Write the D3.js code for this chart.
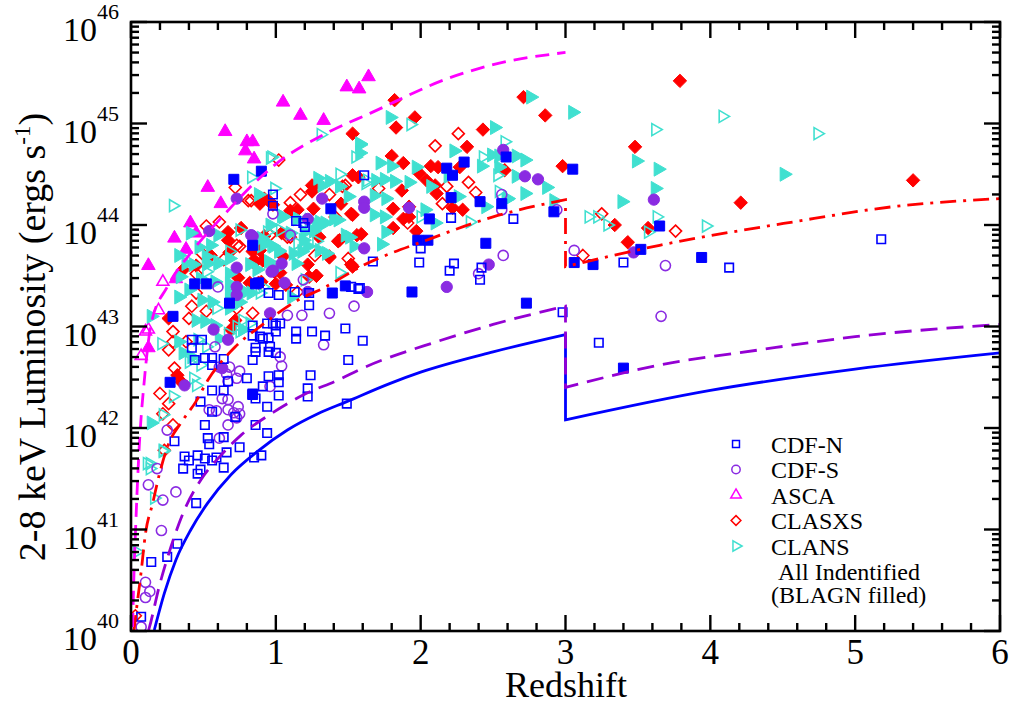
<!DOCTYPE html>
<html>
  <head>
    <meta charset="UTF-8" />
    <title>2-8 keV Luminosity vs Redshift</title>
    <style>
      body { margin: 0; background: #fff; }
      svg, svg text { font-family: "Liberation Serif", "Times New Roman", "DejaVu Serif", serif; }
    </style>
  </head>
  <body>
    <svg width="1014" height="706" font-family="Liberation Serif, Times New Roman, serif"></svg>

    <script src="https://d3js.org/d3.v7.min.js"></script>
    <script>
      // 数据: [redshift, log10 L(2-8 keV)]
      // CDF-N
      const cdfnOpen = [
        [3.40,43.63],[4.13,43.58],[5.18,43.86],[3.23,42.84],[2.98,43.14],
        [1.61,44.49],[2.21,44.07],[2.64,44.06],[2.00,43.77],[1.67,43.64],[1.99,43.63],[2.23,43.62],[2.20,43.55],
        [2.42,43.58],[2.41,43.46],[1.58,43.38],[0.98,44.30],[1.14,44.04],[1.20,43.98],[1.52,43.39],[1.57,43.37],
        [1.23,43.21],[1.02,43.31],[1.14,42.95],[1.14,42.88],[1.25,42.95],[1.34,42.91],[1.48,42.98],[1.60,42.86],
        [0.89,42.90],[1.00,42.95],[0.98,43.03],[1.03,43.03],[1.23,43.33],[0.86,42.79],[0.96,42.80],[0.98,44.19],
        [1.19,44.02],[1.13,43.34],[1.50,42.67],[1.24,42.52],[1.22,42.39],[1.22,42.31],[1.49,42.24],[1.02,42.52],
        [1.02,42.45],[1.02,42.32],[0.95,42.51],[0.91,42.41],[0.84,42.34],[0.86,42.29],[0.94,42.21],[0.80,42.49],
        [0.67,42.46],[0.86,42.75],[0.84,42.67],[0.95,42.75],[1.00,42.74],[0.91,42.88],[0.95,42.89],[0.84,43.01],
        [0.94,43.03],[1.00,43.01],[0.84,42.91],[0.56,42.69],[0.64,42.68],[0.44,42.67],[0.51,42.69],[0.56,42.62],
        [0.64,42.37],[0.56,42.37],[0.48,42.26],[0.56,42.16],[0.51,42.03],[0.53,41.90],[0.54,41.84],[0.64,41.91],
        [0.72,42.11],[0.86,42.03],[0.94,41.95],[0.90,41.73],[0.75,41.81],[0.66,41.76],[0.59,41.71],[0.56,41.68],
        [0.51,41.70],[0.46,41.73],[0.40,41.68],[0.37,41.72],[0.36,41.60],[0.48,41.59],[0.30,41.87],[0.42,42.79],
        [0.42,42.87],[0.46,41.55],[0.64,41.61],[0.85,41.71],[0.45,41.26],[0.32,40.86],[0.25,40.73],[0.14,40.68],
        [0.07,40.14],[0.49,42.87],[0.95,43.33]
      ];
      const cdfnBlagn = [
        [3.05,44.55],[3.65,43.99],[3.52,43.76],[3.06,43.63],[3.19,43.61],[3.94,43.68],[3.40,42.59],
        [2.30,44.62],[2.59,44.67],[2.18,44.56],[2.22,44.49],[2.21,44.27],[2.41,44.23],[2.56,44.21],[2.92,44.13],
        [2.06,44.06],[1.98,43.85],[2.05,43.85],[2.45,43.82],[1.94,43.34],[2.73,43.23],[0.90,44.53],[0.71,44.45],
        [1.38,44.16],[0.84,43.80],[0.88,43.43],[1.48,43.40],[1.39,43.33],[0.44,43.42],[0.52,43.42],[0.68,43.23],
        [0.86,43.42],[0.29,43.10],[0.27,42.45],[0.84,42.33]
      ];
      // CDF-S
      const cdfsOpen = [
        [3.06,43.75],[3.69,43.60],[3.66,43.10],[2.56,44.30],[2.56,44.15],[2.94,44.15],[2.57,43.70],[2.40,43.52],
        [0.98,44.11],[1.10,43.90],[1.19,43.46],[1.08,43.11],[1.18,43.11],[1.37,43.13],[1.54,43.20],[1.33,42.82],
        [0.60,43.39],[1.03,42.70],[1.04,42.61],[0.96,42.41],[0.68,42.60],[0.75,42.56],[0.73,42.49],[0.66,42.53],
        [0.67,42.46],[0.61,42.60],[0.63,42.29],[0.67,42.28],[0.54,42.18],[0.59,42.17],[0.67,42.18],[0.71,42.15],
        [0.74,42.21],[0.73,42.10],[0.67,42.03],[0.61,41.90],[0.75,42.14],[0.25,41.98],[0.58,42.80],[0.18,41.60],
        [0.12,41.44],[0.22,41.29],[0.31,41.37],[0.21,40.99],[0.10,40.48],[0.13,40.39],[0.10,40.33],[0.07,40.04]
      ];
      const cdfsBlagn = [
        [3.61,44.25],[3.47,43.73],[2.57,44.74],[2.72,44.48],[2.81,44.45],[1.61,44.23],[1.61,44.17],[1.92,44.17],
        [1.61,43.77],[2.47,43.61],[2.18,43.39],[1.63,43.34],[1.32,44.26],[1.22,44.06],[0.83,43.90],[1.04,43.62],
        [0.97,43.54],[1.06,43.43],[1.22,43.34],[0.96,43.13],[0.73,43.58],[0.98,43.55],[0.73,43.39],[0.73,43.31],
        [0.57,42.97],[0.67,42.87],[0.63,42.59],[0.37,42.42],[0.73,44.26],[0.54,43.94],[0.84,43.89]
      ];
      // ASCA
      const ascaOpen = [[0.22,43.44],[0.19,43.16],[0.12,42.97],[0.07,42.71],[0.10,42.95]];
      const ascaBlagn = [
        [1.49,45.36],[1.575,45.34],[1.64,45.46],[1.05,45.21],[1.17,45.08],[1.33,45.03],[0.65,44.92],[0.80,44.82],
        [0.84,44.82],[0.79,44.73],[0.85,44.65],[0.53,44.37],[0.62,44.21],[0.41,44.02],[0.30,43.87],[0.38,43.76],
        [0.45,43.92],[0.12,43.60],[0.31,43.47],[0.12,42.79]
      ];
      // CLASXS
      const clasxsOpen = [
        [3.25,44.11],[3.12,43.70],[3.76,43.94],[2.26,44.90],[2.10,44.78],[2.33,44.42],[2.38,44.32],[2.18,44.38],
        [2.15,44.21],[1.71,44.36],[1.91,44.02],[1.02,44.64],[0.81,44.24],[1.10,44.22],[1.17,44.30],[1.48,44.39],
        [1.41,44.08],[0.75,43.79],[0.96,43.90],[1.10,43.88],[1.50,43.67],[0.84,43.13],[1.15,43.34],[0.72,44.37],
        [0.83,44.24],[1.37,44.30],[1.46,44.38],[0.52,43.99],[0.61,44.03],[1.08,43.88],[0.73,43.80],[1.27,43.70],
        [0.45,43.52],[0.42,43.20],[0.40,43.08],[0.29,42.95],[0.29,42.85],[0.38,42.85],[0.26,42.77],[0.30,42.59],
        [0.20,42.34],[0.26,42.24],[0.22,42.14],[0.29,42.03],[0.73,43.18],[0.64,43.66],[0.49,43.72],[0.45,43.33],
        [0.52,43.15],[0.23,41.78],[0.03,40.15]
      ];
      const clasxsBlagn = [
        [3.79,45.42],[3.48,44.77],[2.98,44.58],[3.34,44.00],[3.57,43.97],[3.43,43.83],[4.21,44.22],[5.40,44.44],
        [1.82,45.23],[2.71,45.26],[2.86,45.08],[1.96,45.06],[1.83,44.96],[2.43,44.94],[2.32,44.77],[1.80,44.68],
        [1.88,44.61],[2.07,44.58],[2.12,44.57],[2.27,44.57],[1.99,44.51],[2.58,44.54],[2.04,44.44],[2.10,44.39],
        [1.87,44.34],[2.11,44.31],[2.22,44.17],[2.29,44.15],[1.92,44.18],[1.81,44.16],[1.88,44.06],[1.92,44.08],
        [1.81,43.97],[1.97,43.94],[1.59,43.91],[0.92,44.26],[0.98,44.20],[1.10,44.14],[1.15,44.15],[1.26,44.16],
        [1.26,44.38],[1.45,44.21],[1.53,44.49],[0.76,43.97],[0.92,43.89],[1.04,43.92],[1.30,43.88],[1.44,43.85],
        [1.52,44.11],[1.56,43.90],[0.84,43.74],[0.89,43.75],[1.05,43.69],[1.37,43.68],[1.22,43.61],[1.53,43.59],
        [1.03,43.53],[1.23,43.49],[0.90,43.44],[1.28,43.50],[0.82,43.43],[0.84,43.64],[1.53,44.90],[1.57,44.47],
        [1.25,44.39],[1.25,44.33],[0.89,44.21],[0.95,44.24],[0.67,43.93],[0.67,43.85],[1.53,44.10],[1.43,43.84],
        [0.35,42.45],[0.32,42.52],[0.26,43.08],[0.88,43.43],[1.00,43.42],[1.07,43.41],[0.74,43.48],
        [0.99,43.54],[0.86,43.64],[0.91,43.65],[1.28,43.50],[1.37,43.69],[1.52,43.61],[0.72,43.06],[0.69,42.97],
        [0.68,43.73],[0.36,43.56],[0.45,43.60],[0.55,43.70]
      ];
      // CLANS
      const clansOpen = [
        [4.085,45.07],[3.62,44.94],[4.74,44.90],[3.16,44.08],[3.22,44.08],[3.29,44.00],[3.63,44.08],[3.57,43.93],
        [3.97,43.99],[1.93,44.99],[2.58,44.82],[2.43,44.67],[2.53,44.49],[2.54,44.33],[1.62,44.41],[2.00,44.08],
        [2.34,44.03],[0.97,44.67],[0.83,44.47],[0.99,44.36],[1.44,44.50],[1.63,44.44],[0.94,43.93],[1.03,43.95],
        [0.90,43.79],[0.97,43.80],[1.02,43.75],[1.15,43.82],[1.28,43.84],[1.44,43.53],[0.75,43.95],[1.20,43.46],
        [0.77,43.06],[0.82,43.03],[0.29,44.19],[1.31,44.89],[0.96,44.66],[1.55,44.67],[0.68,43.74],[0.60,43.64],
        [0.52,43.54],[0.59,43.18],[0.46,42.87],[0.52,42.80],[0.21,42.83],[0.43,42.49],[0.45,42.42],[0.29,42.31],
        [0.22,42.13],[0.22,41.77],[0.11,41.65],[0.40,42.65],[0.48,42.62],[0.67,42.93],[0.73,43.00],[0.75,42.95],
        [0.91,43.39],[0.89,43.33],[0.13,41.65],[0.13,41.60],[0.22,41.78],[0.16,41.31],[0.04,40.78]
      ];
      const clansBlagn = [
        [3.05,45.11],[3.49,44.63],[3.64,44.55],[4.51,44.50],[3.62,44.36],[3.39,44.23],[2.76,45.26],[1.79,45.06],
        [2.51,44.96],[1.72,44.61],[1.80,44.58],[1.97,44.57],[2.42,44.58],[2.49,44.69],[2.54,44.68],[2.66,44.68],
        [2.72,44.64],[2.54,44.57],[2.66,44.48],[2.87,44.37],[2.72,44.31],[2.60,44.26],[2.92,44.24],[1.69,44.44],
        [1.75,44.45],[1.82,44.43],[1.92,44.42],[1.68,44.29],[1.76,44.26],[2.19,44.48],[2.07,44.38],[2.26,44.28],
        [2.45,44.18],[2.59,44.25],[2.03,44.15],[2.10,44.02],[1.68,44.10],[1.75,44.08],[1.76,43.93],[1.73,43.81],
        [1.58,44.80],[2.23,44.73],[1.29,44.46],[1.32,44.39],[1.37,44.43],[1.44,44.38],[1.05,44.08],[1.15,44.06],
        [1.23,44.05],[1.30,44.03],[1.34,44.02],[1.40,44.06],[1.43,44.05],[1.51,43.88],[1.54,43.79],[1.10,43.92],
        [1.20,43.93],[1.26,43.94],[0.92,43.82],[0.98,43.79],[1.12,43.72],[1.18,43.74],[1.30,43.75],[1.35,43.72],
        [1.14,43.62],[0.82,43.61],[0.87,43.56],[0.79,43.34],[0.83,43.33],[1.11,43.29],[0.75,43.24],[1.02,43.74],
        [0.95,43.64],[1.00,43.57],[1.58,44.79],[1.58,44.71],[0.88,44.30],[1.50,44.28],[1.04,44.09],[0.96,44.00],
        [1.28,43.98],[1.48,43.90],[0.41,43.92],[0.52,43.69],[1.19,43.85],[1.22,43.79],[0.90,43.87],[0.14,42.05],
        [0.33,43.29],[0.40,43.36],[0.49,43.26],[0.56,43.24],[0.45,43.06],[0.51,43.05],[0.36,42.74],[0.42,42.70],
        [0.33,42.85],[0.53,43.62],[0.60,43.62],[0.68,43.67],[0.48,43.47],[0.58,43.44],[0.68,43.52],[0.68,43.42],
        [0.68,43.33],[0.68,43.26],[0.68,43.18],[0.58,43.01],[0.61,42.88],[0.77,42.97],[0.43,43.61],[0.34,43.49],
        [0.33,43.70],[0.38,43.62],[0.55,43.80],[0.60,43.90],[0.47,43.78],[0.14,43.10]
      ];

      // 流量极限曲线 (z=3 处断开)
      const limitAsca = [[[0.011,40.04],[0.018,40.44],[0.034,41.09],[0.057,41.82],[0.092,42.47],[0.14,43.03],
        [0.25,43.39],[0.41,43.72],[0.61,44.05],[1.0,44.6],[1.37,44.92],[1.65,45.1],[2.2,45.45],[2.5,45.58],[3.0,45.7]]];
      const limitClasxs = [
        [[0.02,40.0],[0.034,40.17],[0.069,40.57],[0.10,40.96],[0.15,41.26],[0.195,41.54],[0.253,41.82],
         [0.345,42.05],[0.448,42.26],[0.53,42.47],[0.72,42.8],[0.91,43.02],[1.14,43.25],[1.33,43.38],[1.6,43.6],
         [2.04,43.85],[2.5,44.08],[3.0,44.25]],
        [[3.0,43.59],[3.65,43.8],[4.57,44.03],[5.26,44.18],[6.0,44.26]]
      ];
      const limitCdfs = [
        [[0.12,40.0],[0.126,40.03],[0.195,40.44],[0.276,40.83],[0.368,41.19],[0.483,41.49],[0.62,41.73],
         [0.76,41.93],[0.966,42.14],[1.195,42.33],[1.425,42.47],[1.6,42.59],[2.11,42.85],[2.5,43.02],[3.0,43.2]],
        [[3.0,42.4],[3.65,42.62],[4.34,42.77],[5.0,42.9],[6.0,43.02]]
      ];
      const limitCdfn = [
        [[0.161,40.01],[0.23,40.37],[0.31,40.7],[0.414,41.0],[0.529,41.26],[0.69,41.54],[0.874,41.77],
         [1.08,41.98],[1.29,42.14],[1.49,42.26],[1.79,42.44],[2.0,42.55],[2.5,42.75],[3.0,42.92]],
        [[3.0,42.08],[4.0,42.37],[5.0,42.58],[6.0,42.74]]
      ];

      const xTicks = [0, 1, 2, 3, 4, 5, 6];
      const yDecades = [40, 41, 42, 43, 44, 45, 46];

      const legendNames = ["CDF-N", "CDF-S", "ASCA", "CLASXS", "CLANS"];

      // 颜色
      const BLUE = "#0000ff";
      const VIOLET = "#8a2be2";
      const MAGENTA = "#ff00ff";
      const RED = "#ff0000";
      const TURQ = "#40e0d0";
      const FONT = "'Liberation Serif', 'Times New Roman', serif";

      const svg = d3.select("svg");
      const LEFT = 131, RIGHT = 1000, TOP = 22, BOTTOM = 631;

      const x = d3.scaleLinear().domain([0, 6]).range([LEFT, RIGHT]);
      const y = d3.scaleLog().domain([1e40, 1e46]).range([BOTTOM, TOP]);
      const py = (v) => y(Math.pow(10, v));

      svg.append("rect").attr("width", 1014).attr("height", 706).attr("fill", "#fff");

      svg.append("clipPath").attr("id", "clip")
        .append("rect").attr("x", LEFT).attr("y", TOP)
        .attr("width", RIGHT - LEFT).attr("height", BOTTOM - TOP);

      // 符号
      const diamond = {
        draw(ctx, size) {
          const r = Math.sqrt(size / 2);
          ctx.moveTo(0, -r); ctx.lineTo(r, 0); ctx.lineTo(0, r); ctx.lineTo(-r, 0); ctx.closePath();
        }
      };
      const series = [
        { name: "ASCA", color: MAGENTA, type: d3.symbolTriangle, rot: 0, size: 62, fsize: 80, open: ascaOpen, filled: ascaBlagn },
        { name: "CLASXS", color: RED, type: diamond, rot: 0, size: 72, fsize: 90, open: clasxsOpen, filled: clasxsBlagn },
        { name: "CLANS", color: TURQ, type: d3.symbolTriangle, rot: 90, size: 62, fsize: 85, open: clansOpen, filled: clansBlagn },
        { name: "CDF-S", color: VIOLET, type: d3.symbolCircle, rot: 0, size: 80, fsize: 100, open: cdfsOpen, filled: cdfsBlagn },
        { name: "CDF-N", color: BLUE, type: d3.symbolSquare, rot: 0, size: 72, fsize: 100, open: cdfnOpen, filled: cdfnBlagn }
      ];

      const pts = svg.append("g").attr("clip-path", "url(#clip)");
      series.forEach((s) => {
        const gen = d3.symbol().type(s.type);
        pts.selectAll(null).data(s.open).enter().append("path")
          .attr("d", gen.size(s.size)())
          .attr("transform", (d) => `translate(${x(d[0])},${py(d[1])}) rotate(${s.rot})`)
          .attr("fill", "none")
          .attr("stroke", s.color)
          .attr("stroke-width", 1.6);
        pts.selectAll(null).data(s.filled).enter().append("path")
          .attr("d", gen.size(s.fsize)())
          .attr("transform", (d) => `translate(${x(d[0])},${py(d[1])}) rotate(${s.rot})`)
          .attr("fill", s.color)
          .attr("stroke", s.color)
          .attr("stroke-width", 1);
      });

      // 极限曲线
      const lineGen = d3.line().x((d) => x(d[0])).y((d) => py(d[1])).curve(d3.curveMonotoneX);
      const limits = [
        { segs: limitCdfn, color: BLUE, dash: null },
        { segs: limitCdfs, color: "#9400d3", dash: "17,9" },
        { segs: limitClasxs, color: RED, dash: "16,7,3,7" },
        { segs: limitAsca, color: MAGENTA, dash: "14,8" }
      ];
      const curves = svg.append("g").attr("clip-path", "url(#clip)");
      curves.selectAll("path").data(limits).enter().append("path")
        .attr("d", (d) => d.segs.map((s, i) => (i === 0 ? lineGen(s) : lineGen(s).replace(/^M/, "L"))).join(""))
        .attr("fill", "none")
        .attr("stroke", (d) => d.color)
        .attr("stroke-width", 2.8)
        .attr("stroke-dasharray", (d) => d.dash);

      // 坐标轴刻度 (四边, 向内)
      const axes = svg.append("g").attr("stroke", "#000").attr("stroke-width", 2.4);
      const xMinor = d3.range(0, 6.001, 0.2).map((v) => +v.toFixed(1)).filter((v) => !xTicks.includes(v));
      const xTickData = xTicks.map((v) => [v, 16]).concat(xMinor.map((v) => [v, 8]));
      xTickData.forEach(([v, len]) => {
        axes.append("line").attr("x1", x(v)).attr("x2", x(v)).attr("y1", BOTTOM).attr("y2", BOTTOM - len);
        axes.append("line").attr("x1", x(v)).attr("x2", x(v)).attr("y1", TOP).attr("y2", TOP + len);
      });
      const yTickData = [];
      yDecades.forEach((e) => {
        yTickData.push([Math.pow(10, e), 16]);
        if (e < 46) d3.range(2, 10).forEach((m) => yTickData.push([m * Math.pow(10, e), 8]));
      });
      yTickData.forEach(([v, len]) => {
        axes.append("line").attr("y1", y(v)).attr("y2", y(v)).attr("x1", LEFT).attr("x2", LEFT + len);
        axes.append("line").attr("y1", y(v)).attr("y2", y(v)).attr("x1", RIGHT).attr("x2", RIGHT - len);
      });
      svg.append("rect").attr("x", LEFT).attr("y", TOP)
        .attr("width", RIGHT - LEFT).attr("height", BOTTOM - TOP)
        .attr("fill", "none").attr("stroke", "#000").attr("stroke-width", 2.6);

      // 刻度标签
      const txt = (sel) => sel.attr("font-family", FONT).attr("fill", "#000");
      svg.selectAll(".xlab").data(xTicks).enter().append("text")
        .attr("class", "xlab")
        .attr("x", (d) => x(d)).attr("y", 664)
        .attr("text-anchor", "middle").attr("font-size", "35px")
        .call(txt)
        .text((d) => d);
      const ylab = svg.selectAll(".ylab").data(yDecades).enter().append("g").attr("class", "ylab");
      ylab.append("text")
        .attr("x", 97).attr("y", (d) => py(d) + 19)
        .attr("text-anchor", "end").attr("font-size", "34px")
        .call(txt)
        .text("10");
      ylab.append("text")
        .attr("x", 97).attr("y", (d) => py(d) - 3)
        .attr("font-size", "22px")
        .call(txt)
        .text((d) => d);

      // 轴标题
      svg.append("text").attr("x", 566).attr("y", 697)
        .attr("text-anchor", "middle").attr("font-size", "36px").call(txt).text("Redshift");
      const yt = svg.append("text")
        .attr("transform", "translate(45,337) rotate(-90)")
        .attr("text-anchor", "middle").attr("font-size", "38px").call(txt);
      yt.append("tspan").text("2-8 keV Luminosity (ergs s");
      yt.append("tspan").attr("font-size", "23px").attr("dy", -15).text("-1");
      yt.append("tspan").attr("dy", 15).text(")");

      // 图例
      const legendSeries = legendNames.map((n) => series.find((s) => s.name === n));
      const leg = svg.append("g");
      legendSeries.forEach((s, i) => {
        const ly = 444 + i * 25.5;
        leg.append("path")
          .attr("d", d3.symbol().type(s.type).size(s.type === d3.symbolCircle ? 55 : 48)())
          .attr("transform", `translate(736,${ly}) rotate(${s.rot})`)
          .attr("fill", "none").attr("stroke", s.color).attr("stroke-width", 1.5);
        leg.append("text").attr("x", 771).attr("y", ly + 8.5)
          .attr("font-size", "24px").call(txt).text(s.name);
      });
      leg.append("text").attr("x", 778).attr("y", 580).attr("font-size", "24px").call(txt).text("All Indentified");
      leg.append("text").attr("x", 771).attr("y", 603).attr("font-size", "24px").call(txt).text("(BLAGN filled)");
    </script>
  </body>
</html>
